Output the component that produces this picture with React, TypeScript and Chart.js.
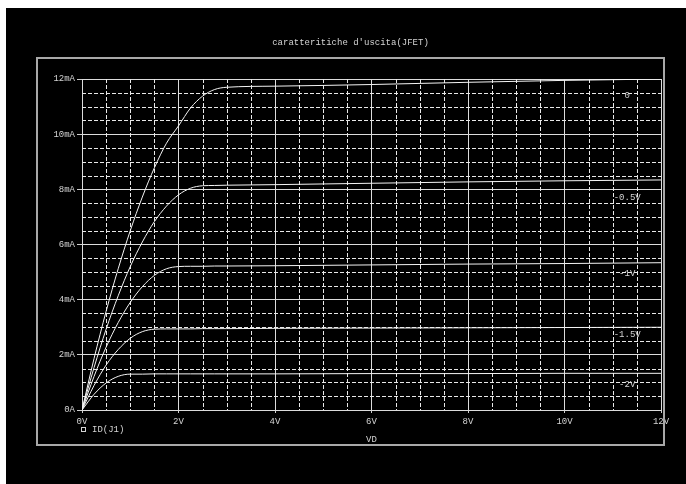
import React, { useEffect, useRef } from "react";
import { Chart, registerables } from "chart.js";
Chart.register(...registerables);

// Drain-source voltage (V)
const vds = [0, 0.25, 0.5, 0.75, 1, 1.25, 1.5, 1.75, 2, 2.25, 2.5, 2.75, 3, 4, 6, 8, 10, 12];
// Drain current ID(J1) in mA for each gate voltage
const idVgs0 = [0, 1.87, 3.58, 5.12, 6.5, 7.72, 8.78, 9.67, 10.3, 10.95, 11.38, 11.62, 11.7, 11.74, 11.8, 11.88, 11.95, 12.0];
const idVgsM05 = [0, 1.54, 2.93, 4.14, 5.2, 6.09, 6.83, 7.39, 7.8, 8.04, 8.13, 8.14, 8.15, 8.17, 8.22, 8.27, 8.31, 8.34];
const idVgsM1 = [0, 1.22, 2.28, 3.17, 3.9, 4.47, 4.88, 5.12, 5.2, 5.21, 5.21, 5.22, 5.22, 5.23, 5.26, 5.29, 5.31, 5.34];
const idVgsM15 = [0, 0.89, 1.63, 2.19, 2.6, 2.84, 2.93, 2.94, 2.94, 2.94, 2.95, 2.95, 2.95, 2.96, 2.97, 2.98, 2.99, 3.0];
const idVgsM2 = [0, 0.57, 0.98, 1.22, 1.3, 1.3, 1.31, 1.31, 1.31, 1.31, 1.31, 1.31, 1.31, 1.31, 1.32, 1.32, 1.33, 1.33];

const series = [idVgs0, idVgsM05, idVgsM1, idVgsM15, idVgsM2];
const curveLabels = ["0", "-0.5V", "-1V", "-1.5V", "-2V"];
const curveLabelV = 11.3;
const curveLabelI = [11.38, 7.69, 4.93, 2.72, 0.91];

const title = "caratteritiche d'uscita(JFET)";
const xTitle = "VD";
const legendText = "ID(J1)";

const FONT = "9px 'Liberation Mono', 'DejaVu Sans Mono', monospace";
const TEXT = "#d4d4d4";

const minorGrid = {
  id: "minorGrid",
  beforeDatasetsDraw(chart: any) {
    const { ctx, chartArea: a, scales } = chart;
    const x = scales.x;
    const y = scales.y;
    ctx.save();
    ctx.strokeStyle = "#e8e8e8";
    ctx.lineWidth = 1;
    ctx.setLineDash([4, 2]);
    for (let i = 1; i < 24; i++) {
      if (i % 4 === 0) continue;
      const v = i * 0.5;
      const px = Math.round(x.getPixelForValue(v)) + 0.5;
      ctx.beginPath();
      ctx.moveTo(px, a.top);
      ctx.lineTo(px, a.bottom);
      ctx.stroke();
      const py = Math.round(y.getPixelForValue(v)) + 0.5;
      ctx.beginPath();
      ctx.moveTo(a.left, py);
      ctx.lineTo(a.right, py);
      ctx.stroke();
    }
    ctx.restore();
  },
};

const decorations = {
  id: "decorations",
  afterDraw(chart: any) {
    const { ctx, chartArea: a, scales } = chart;
    ctx.save();
    // outer frame
    ctx.strokeStyle = "#a8a8a8";
    ctx.lineWidth = 2;
    ctx.strokeRect(31, 50, 627, 387);
    ctx.font = FONT;
    ctx.fillStyle = TEXT;
    ctx.textBaseline = "middle";
    ctx.textAlign = "center";
    ctx.fillText(title, 344.5, 35);
    ctx.fillText(xTitle, (a.left + a.right) / 2, 432);
    // legend
    ctx.strokeStyle = TEXT;
    ctx.lineWidth = 1;
    ctx.strokeRect(75.5, 419.5, 4, 4);
    ctx.textAlign = "left";
    ctx.fillText(legendText, 86, 422);
    // curve labels
    ctx.textAlign = "center";
    for (let i = 0; i < curveLabels.length; i++) {
      ctx.fillText(
        curveLabels[i],
        scales.x.getPixelForValue(curveLabelV),
        scales.y.getPixelForValue(curveLabelI[i])
      );
    }
    ctx.restore();
  },
};

export default function App() {
  const ref = useRef<HTMLCanvasElement>(null);
  useEffect(() => {
    if (!ref.current) return;
    const chart = new Chart(ref.current, {
      type: "line",
      data: {
        datasets: series.map((s) => ({
          data: vds.map((v, i) => ({ x: v, y: s[i] })),
          borderColor: "#f4f4f4",
          borderWidth: 1,
          pointRadius: 0,
          fill: false,
          cubicInterpolationMode: "monotone" as const,
        })),
      },
      options: {
        animation: false,
        responsive: false,
        maintainAspectRatio: false,
        layout: { padding: { left: 36, right: 25, top: 71, bottom: 44 } },
        plugins: { legend: { display: false }, title: { display: false }, tooltip: { enabled: false } },
        scales: {
          x: {
            type: "linear",
            min: 0,
            max: 12,
            afterFit: (s: any) => { s.height = 30; },
            ticks: {
              stepSize: 2,
              maxRotation: 0,
              padding: 3,
              color: TEXT,
              font: { family: "'Liberation Mono', 'DejaVu Sans Mono', monospace", size: 9 },
              callback: (v: any) => `${v}V`,
            },
            grid: { color: "#dcdcdc", lineWidth: 1, tickLength: 3, tickColor: "#cfcfcf" },
            border: { color: "#dcdcdc" },
          },
          y: {
            type: "linear",
            min: 0,
            max: 12,
            afterFit: (s: any) => { s.width = 40; },
            ticks: {
              stepSize: 2,
              padding: 2,
              color: TEXT,
              font: { family: "'Liberation Mono', 'DejaVu Sans Mono', monospace", size: 9 },
              callback: (v: any) => (v === 0 ? "0A" : `${v}mA`),
            },
            grid: { color: "#dcdcdc", lineWidth: 1, tickLength: 5, tickColor: "#cfcfcf" },
            border: { color: "#dcdcdc" },
          },
        },
      },
      plugins: [minorGrid, decorations],
    });
    return () => chart.destroy();
  }, []);
  return (
    <div style={{ position: "absolute", left: 6, top: 8, width: 680, height: 476, background: "#000" }}>
      <canvas ref={ref} width={680} height={476} style={{ display: "block" }} />
    </div>
  );
}
